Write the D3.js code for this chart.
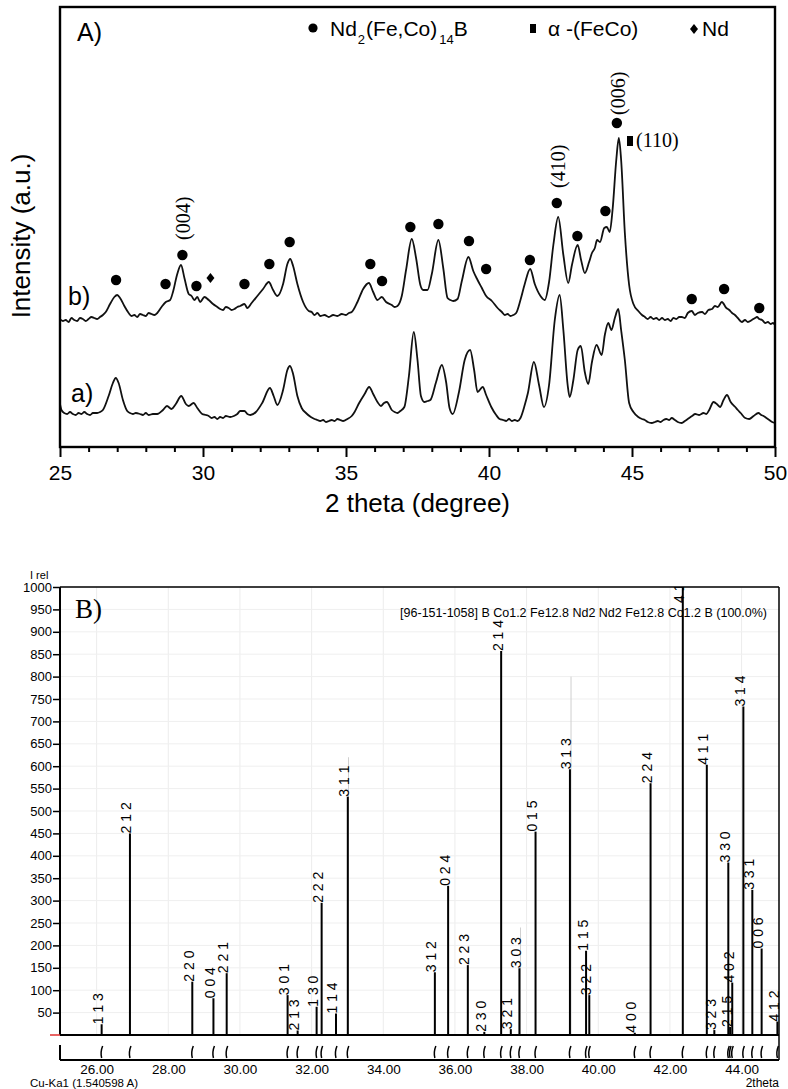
<!DOCTYPE html>
<html><head><meta charset="utf-8">
<script src="https://cdn.jsdelivr.net/npm/d3@7"></script>
<style>
body{margin:0;background:#fff;}
svg{display:block;}
text{font-family:"Liberation Sans",Arial,sans-serif;fill:#000;}
.serif{font-family:"Liberation Serif","Times New Roman",serif;}
</style></head>
<body>
<svg id="chart" width="788" height="1089"></svg>
<script>
// ---------- Panel A data: measured XRD curves, [2theta, intensity] ----------
const curveB = [[25.0,128],[25.1,126],[25.2,127],[25.3,125],[25.4,129],[25.5,127],[25.6,126],[25.7,129],[25.8,128],[25.9,126],[26.0,128],[26.1,130],[26.2,129],[26.3,128],[26.4,130],[26.5,132],[26.6,135],[26.75,143],[26.9,150],[27.0,152],[27.1,149],[27.25,141],[27.4,134],[27.5,131],[27.6,132],[27.7,130],[27.8,133],[27.9,132],[28.0,131],[28.1,134],[28.2,133],[28.3,132],[28.4,134],[28.55,140],[28.7,145],[28.85,147],[28.95,155],[29.1,173],[29.23,182],[29.35,169],[29.5,153],[29.6,151],[29.7,147],[29.8,150],[29.9,145],[30.05,150],[30.2,147],[30.35,143],[30.5,140],[30.6,138],[30.7,137],[30.8,140],[30.9,139],[31.0,137],[31.1,138],[31.2,140],[31.3,141],[31.45,143],[31.55,139],[31.7,144],[31.9,151],[32.1,158],[32.3,165],[32.45,157],[32.6,151],[32.8,163],[32.95,183],[33.05,188],[33.15,181],[33.3,163],[33.5,145],[33.7,136],[33.8,135],[33.9,132],[34.0,134],[34.1,131],[34.25,132],[34.4,130],[34.55,132],[34.7,131],[34.85,133],[35.0,132],[35.1,134],[35.2,135],[35.4,145],[35.6,158],[35.8,164],[35.95,155],[36.1,147],[36.25,150],[36.4,145],[36.6,142],[36.7,140],[36.8,141],[36.95,151],[37.1,177],[37.3,208],[37.45,189],[37.6,162],[37.7,157],[37.85,157],[38.0,173],[38.23,207],[38.4,179],[38.55,149],[38.65,147],[38.75,146],[38.9,148],[39.05,166],[39.28,190],[39.45,176],[39.6,167],[39.75,159],[39.9,151],[40.1,146],[40.3,139],[40.45,135],[40.55,132],[40.65,133],[40.75,131],[40.85,132],[40.95,134],[41.1,147],[41.25,163],[41.44,178],[41.6,163],[41.8,151],[41.95,147],[42.1,165],[42.25,202],[42.42,230],[42.6,192],[42.77,164],[42.9,182],[43.1,202],[43.22,187],[43.35,174],[43.5,185],[43.6,194],[43.7,199],[43.78,207],[43.88,205],[44.03,219],[44.12,220],[44.22,215],[44.32,237],[44.45,287],[44.54,309],[44.62,287],[44.75,214],[44.9,162],[45.05,143],[45.22,136],[45.35,132],[45.45,130],[45.55,128],[45.65,130],[45.75,128],[45.85,129],[45.95,127],[46.05,129],[46.15,127],[46.25,128],[46.35,126],[46.45,129],[46.55,128],[46.65,130],[46.74,130],[46.85,129],[46.95,134],[47.09,136],[47.2,132],[47.3,134],[47.45,135],[47.55,133],[47.67,137],[47.8,138],[47.9,141],[48.0,140],[48.14,145],[48.3,139],[48.4,137],[48.5,134],[48.6,132],[48.7,129],[48.84,125],[48.95,127],[49.05,125],[49.19,127],[49.3,129],[49.37,130],[49.45,128],[49.55,127],[49.66,124],[49.75,125],[49.85,123],[49.93,124],[50.0,122]];

const curveA = [[25.0,43],[25.05,37],[25.15,34],[25.25,33],[25.35,35],[25.45,33],[25.55,32],[25.65,34],[25.75,33],[25.85,35],[25.95,33],[26.05,32],[26.15,34],[26.3,34],[26.4,35],[26.5,37],[26.7,51],[26.85,64],[26.95,69],[27.05,64],[27.2,47],[27.35,36],[27.45,34],[27.55,33],[27.65,34],[27.8,33],[27.9,32],[28.0,34],[28.1,32],[28.25,33],[28.4,33],[28.6,37],[28.74,41],[28.9,38],[29.05,43],[29.24,51],[29.4,43],[29.5,41],[29.67,44],[29.8,39],[29.97,33],[30.1,32],[30.2,31],[30.3,29],[30.4,30],[30.5,28],[30.6,30],[30.7,29],[30.8,31],[30.95,30],[31.08,31],[31.2,33],[31.3,36],[31.45,36],[31.55,33],[31.66,32],[31.85,35],[32.07,44],[32.34,59],[32.47,51],[32.6,42],[32.8,57],[32.95,77],[33.04,81],[33.15,73],[33.3,51],[33.45,39],[33.6,34],[33.77,30],[33.9,28],[34.0,27],[34.1,26],[34.2,27],[34.3,25],[34.4,26],[34.5,27],[34.6,26],[34.7,28],[34.8,27],[34.9,26],[35.05,28],[35.2,31],[35.3,35],[35.46,44],[35.65,53],[35.81,60],[35.95,53],[36.1,45],[36.22,41],[36.33,44],[36.43,45],[36.6,37],[36.7,35],[36.8,34],[36.9,36],[37.04,40],[37.2,71],[37.37,115],[37.5,87],[37.62,51],[37.74,45],[37.85,46],[37.95,47],[38.15,65],[38.35,82],[38.5,65],[38.62,39],[38.73,33],[38.95,55],[39.15,87],[39.34,97],[39.48,77],[39.6,55],[39.78,60],[39.9,52],[40.08,40],[40.25,32],[40.37,28],[40.5,27],[40.6,26],[40.7,28],[40.8,26],[40.9,27],[41.0,26],[41.1,29],[41.25,42],[41.36,54],[41.57,85],[41.75,62],[41.92,40],[42.1,62],[42.3,127],[42.47,152],[42.6,117],[42.75,62],[42.82,50],[42.95,67],[43.1,97],[43.21,101],[43.35,75],[43.47,63],[43.6,85],[43.76,102],[43.94,92],[44.05,112],[44.17,124],[44.28,117],[44.4,129],[44.52,138],[44.62,117],[44.75,87],[44.9,44],[45.05,35],[45.22,30],[45.35,28],[45.45,27],[45.55,25],[45.69,24],[45.8,25],[45.9,26],[46.0,25],[46.1,27],[46.2,28],[46.3,27],[46.39,29],[46.5,27],[46.6,25],[46.74,24],[46.85,26],[46.95,28],[47.1,31],[47.21,33],[47.35,32],[47.5,34],[47.6,33],[47.7,37],[47.85,45],[48.0,42],[48.08,40],[48.2,47],[48.32,52],[48.45,45],[48.61,40],[48.7,37],[48.8,34],[48.96,29],[49.1,28],[49.25,31],[49.42,34],[49.52,32],[49.6,31],[49.7,29],[49.8,27],[49.9,25],[50.0,24]];

// phase markers (2theta, height)
const ndfebTheta = [26.96,28.69,29.28,29.77,31.45,32.32,33.03,35.85,36.26,37.25,38.23,39.3,39.9,41.43,42.37,43.09,44.07,44.47,47.09,48.22,49.45];
const ndfebInt   = [167,163,192,161,163,183,205,183,166,220,223,206,178,187,244,211,236,324,148,158,139];
const fecoTheta = [44.93];
const fecoInt   = [306];
const ndTheta = [30.26];
const ndInt   = [169];
const hklLabelTheta = [29.28,42.37,44.47];
const hklLabelInt   = [207,259,332];
const hklLabelText  = ["(004)","(410)","(006)"];
const ticksA = [25,30,35,40,45,50];

// ---------- Panel B data: reference pattern ----------
const refTheta = [26.14,26.93,28.67,29.26,29.63,31.33,31.61,32.14,32.28,32.68,33.01,35.44,35.81,36.36,36.82,37.29,37.56,37.8,38.25,39.21,39.66,39.75,41.02,41.46,42.36,43.03,43.24,43.63,43.68,43.74,44.05,44.3,44.56,45.0];
const refInt   = [24,450,119,82,138,89,10,63,295,48,532,140,333,156,7,857,13,149,454,593,188,89,5,562,1000,603,11,385,18,117,733,324,193,30];
const refHkl   = ["113","212","220","004","221","301","213","130","222","114","311","312","024","223","230","214","321","303","015","313","115","322","400","224","410","411","323","330","215","402","314","331","006","412"];
const ghostTheta = [33.03,37.83,39.24];
const ghostInt   = [620,240,800];
const ticksBX = [26,28,30,32,34,36,38,40,42,44];
const ticksBY = d3.range(50,1001,50);

const svg = d3.select("#chart");

// ===== Panel A =====
const xA = d3.scaleLinear().domain([25,50]).range([60,775]);
const yA = d3.scaleLinear().domain([0,440]).range([447,7]);
const gA = svg.append("g");

const lineGen = d3.line().x(d=>xA(d[0])).y(d=>yA(d[1])).curve(d3.curveMonotoneX);
[curveB, curveA].forEach(c=>{
  gA.append("path").datum(c).attr("d",lineGen).attr("fill","none")
    .attr("stroke","#111").attr("stroke-width",1.8).attr("stroke-linejoin","round");
});

// frame
gA.append("rect").attr("x",60).attr("y",7).attr("width",715).attr("height",440)
  .attr("fill","none").attr("stroke","#000").attr("stroke-width",2.4);

// x axis
const axA = gA.append("g").attr("transform","translate(0,447)")
  .call(d3.axisBottom(xA).tickValues(ticksA).tickSize(10).tickPadding(8).tickFormat(d3.format("d")));
axA.select(".domain").remove();
axA.selectAll("line").attr("stroke-width",2);
axA.selectAll("text").style("font-size","21px").style("font-family","'Liberation Sans',Arial");
const axAm = gA.append("g").attr("transform","translate(0,447)")
  .call(d3.axisBottom(xA).tickValues(d3.range(26,50,1).filter(v=>v%5!==0)).tickSize(5).tickFormat(""));
axAm.select(".domain").remove();
axAm.selectAll("line").attr("stroke-width",2);

gA.append("text").attr("x",417.5).attr("y",512).attr("text-anchor","middle")
  .style("font-size","26px").text("2 theta (degree)");
gA.append("text").attr("transform","translate(30,236) rotate(-90)").attr("text-anchor","middle")
  .style("font-size","26px").text("Intensity (a.u.)");

gA.append("text").attr("x",77).attr("y",41).style("font-size","25px").text("A)");
gA.append("text").attr("x",68).attr("y",305).style("font-size","25px").text("b)");
gA.append("text").attr("x",71).attr("y",402).style("font-size","25px").text("a)");

// markers
gA.selectAll("circle.nd2").data(ndfebTheta).join("circle").attr("class","nd2")
  .attr("cx",d=>xA(d)).attr("cy",(d,i)=>yA(ndfebInt[i])).attr("r",5.2).attr("fill","#000");
gA.selectAll("rect.feco").data(fecoTheta).join("rect").attr("class","feco")
  .attr("x",d=>xA(d)-3).attr("y",(d,i)=>yA(fecoInt[i])-5).attr("width",6).attr("height",10).attr("fill","#000");
gA.selectAll("path.nd").data(ndTheta).join("path").attr("class","nd")
  .attr("transform",(d,i)=>`translate(${xA(d)},${yA(ndInt[i])})`)
  .attr("d","M0,-5 L4,0 L0,5 L-4,0Z").attr("fill","#000");
gA.selectAll("text.hkl").data(hklLabelTheta).join("text").attr("class","hkl serif")
  .attr("transform",(d,i)=>`translate(${xA(d)+8},${yA(hklLabelInt[i])}) rotate(-90)`)
  .style("font-size","20px").text((d,i)=>hklLabelText[i]);
gA.append("text").attr("class","serif").attr("x",636).attr("y",147).style("font-size","20px").text("(110)");

// legend
gA.append("circle").attr("cx",313).attr("cy",28).attr("r",4.6).attr("fill","#000");
const lg = gA.append("text").attr("x",330).attr("y",36).style("font-size","21px");
lg.append("tspan").text("Nd");
lg.append("tspan").attr("dy",8).attr("dx",1).style("font-size","13px").text("2");
lg.append("tspan").attr("dy",-8).attr("dx",1).text("(Fe,Co)");
lg.append("tspan").attr("dy",8).attr("dx",2).style("font-size","13px").text("14");
lg.append("tspan").attr("dy",-8).text("B");
gA.append("rect").attr("x",530).attr("y",24).attr("width",6).attr("height",9).attr("fill","#000");
gA.append("text").attr("x",548).attr("y",36).style("font-size","21px").text("\u03b1 -(FeCo)");
gA.append("path").attr("transform","translate(694,29)").attr("d","M0,-5 L4,0 L0,5 L-4,0Z").attr("fill","#000");
gA.append("text").attr("x",702).attr("y",36).style("font-size","21px").text("Nd");

// ===== Panel B =====
const xB = d3.scaleLinear().domain([25,45]).range([60.8,777.4]);
const yB = d3.scaleLinear().domain([0,1000]).range([1035,587]);
const gB = svg.append("g");
const defs = svg.append("defs");
defs.append("clipPath").attr("id","clipB").append("rect").attr("x",55).attr("y",587).attr("width",730).attr("height",448);

// grid
gB.append("g").selectAll("line").data(ticksBX).join("line")
  .attr("x1",d=>xB(d)).attr("x2",d=>xB(d)).attr("y1",587).attr("y2",1035)
  .attr("stroke","#ececec").attr("stroke-width",1);
gB.append("g").selectAll("line").data(ticksBY).join("line")
  .attr("x1",60).attr("x2",779).attr("y1",d=>yB(d)).attr("y2",d=>yB(d))
  .attr("stroke","#efefef").attr("stroke-width",1);

// ghost reference lines
gB.append("g").selectAll("line").data(ghostTheta).join("line")
  .attr("x1",d=>xB(d)).attr("x2",d=>xB(d)).attr("y1",yB(0)).attr("y2",(d,i)=>yB(ghostInt[i]))
  .attr("stroke","#cfcfcf").attr("stroke-width",1);

// frame lines
gB.append("line").attr("x1",60).attr("x2",779).attr("y1",587).attr("y2",587).attr("stroke","#000").attr("stroke-width",1.5);
gB.append("line").attr("x1",779).attr("x2",779).attr("y1",587).attr("y2",1060).attr("stroke","#000").attr("stroke-width",1.5);
gB.append("line").attr("x1",60).attr("x2",60).attr("y1",587).attr("y2",1035).attr("stroke","#000").attr("stroke-width",2);
gB.append("line").attr("x1",60).attr("x2",60).attr("y1",1045).attr("y2",1060).attr("stroke","#000").attr("stroke-width",2);
gB.append("line").attr("x1",60).attr("x2",779).attr("y1",1035).attr("y2",1035).attr("stroke","#000").attr("stroke-width",2);
gB.append("line").attr("x1",60).attr("x2",779).attr("y1",1060).attr("y2",1060).attr("stroke","#000").attr("stroke-width",2);

// sticks
const sticks = gB.append("g").attr("clip-path","url(#clipB)");
sticks.selectAll("line").data(refTheta).join("line")
  .attr("x1",d=>xB(d)).attr("x2",d=>xB(d)).attr("y1",yB(0)).attr("y2",(d,i)=>yB(refInt[i]))
  .attr("stroke","#000").attr("stroke-width",2);
sticks.selectAll("text").data(refTheta).join("text")
  .attr("transform",(d,i)=>`translate(${xB(d)+1.5},${Math.max(yB(refInt[i]), yB(1000)+16)}) rotate(-90)`)
  .style("font-size","14px").text((d,i)=>refHkl[i].split("").join(" "));

// position markers band
gB.append("g").selectAll("path").data(refTheta).join("path")
  .attr("d",d=>{const x=xB(d);return `M${x+1},1046 Q${x-1.5},1052 ${x},1058`;})
  .attr("fill","none").attr("stroke","#000").attr("stroke-width",1.5);

// y axis
const ayB = gB.append("g").attr("transform","translate(60,0)")
  .call(d3.axisLeft(yB).tickValues(ticksBY).tickSize(7).tickPadding(1).tickFormat(d3.format("d")));
ayB.select(".domain").remove();
ayB.selectAll("line").attr("stroke-width",1.5);
ayB.selectAll("text").style("font-size","13px").style("font-family","'Liberation Sans',Arial");
gB.append("line").attr("x1",50).attr("x2",60).attr("y1",yB(0)).attr("y2",yB(0)).attr("stroke","#e03030").attr("stroke-width",1.5);
gB.append("text").attr("x",30).attr("y",579).style("font-size","11px").text("I rel");

// x axis labels
const axB = gB.append("g").attr("transform","translate(0,1060)")
  .call(d3.axisBottom(xB).tickValues(ticksBX).tickSize(0).tickPadding(4).tickFormat(d3.format(".2f")));
axB.select(".domain").remove();
axB.selectAll("text").style("font-size","13.5px").style("font-family","'Liberation Sans',Arial");

gB.append("text").attr("class","serif").attr("x",75).attr("y",618).style("font-size","27px").text("B)");
gB.append("text").attr("x",767).attr("y",617).attr("text-anchor","end").style("font-size","12.5px")
  .text("[96-151-1058] B Co1.2 Fe12.8 Nd2 Nd2 Fe12.8 Co1.2 B (100.0%)");
gB.append("text").attr("x",30).attr("y",1087).style("font-size","11.5px").text("Cu-Ka1 (1.540598 A)");
gB.append("text").attr("x",779).attr("y",1087).attr("text-anchor","end").style("font-size","12px").text("2theta");
</script>
</body></html>
